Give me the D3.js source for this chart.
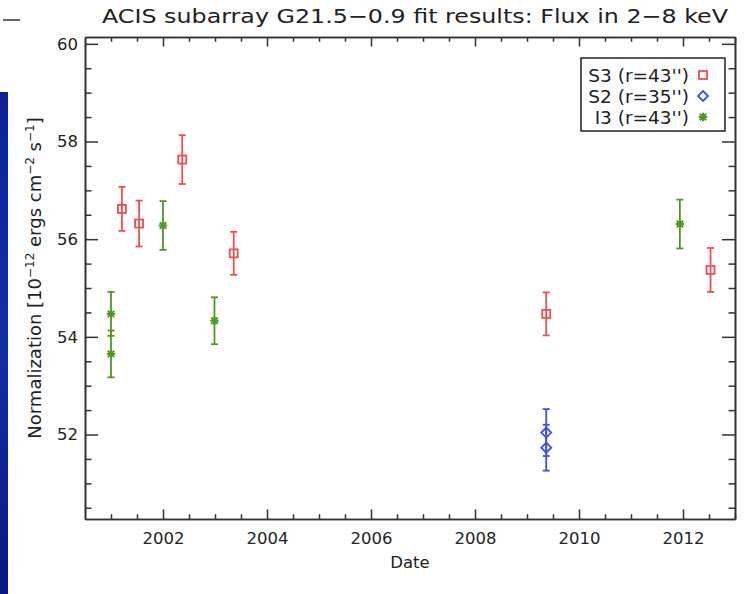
<!DOCTYPE html>
<html><head><meta charset="utf-8">
<script src="https://cdn.jsdelivr.net/npm/d3@7"></script>
<style>
html,body{margin:0;padding:0;background:#fff;}
svg text{font-family:"DejaVu Sans",sans-serif;fill:#222;}
</style></head>
<body>
<svg id="c" width="744" height="594"></svg>
<script>
// ---- data ----
const s3Dates = [2001.21, 2001.54, 2002.37, 2003.36, 2009.37, 2012.53];
const s3Vals  = [56.62, 56.32, 57.63, 55.71, 54.47, 55.37];
const s3Errs  = [0.45, 0.47, 0.50, 0.44, 0.44, 0.45];
const s2Dates = [2009.37, 2009.37];
const s2Vals  = [52.04, 51.73];
const s2Errs  = [0.48, 0.47];
const i3Dates = [2001.0, 2001.0, 2002.0, 2002.99, 2011.94];
const i3Vals  = [54.47, 53.65, 56.28, 54.33, 56.31];
const i3Errs  = [0.45, 0.48, 0.50, 0.48, 0.50];
const xTickLabels = [2002, 2004, 2006, 2008, 2010, 2012];
const yTickLabels = [52, 54, 56, 58, 60];
const legendLabels = ["S3 (r=43'')", "S2 (r=35'')", "I3 (r=43'')"];
const titleText = "ACIS subarray G21.5\u22120.9 fit results: Flux in 2\u22128 keV";

const svg = d3.select("#c");
const L = 85, R = 735, T = 37, B = 519;
const x = d3.scaleLinear().domain([2000.5, 2013]).range([L, R]);
const y = d3.scaleLinear().domain([50.27, 60.14]).range([B, T]);

// left decorative band
const grad = svg.append("defs").append("linearGradient").attr("id","bg").attr("x1",0).attr("y1",0).attr("x2",0).attr("y2",1);
grad.append("stop").attr("offset","0").attr("stop-color","#0b2296");
grad.append("stop").attr("offset","0.5").attr("stop-color","#1030a8");
grad.append("stop").attr("offset","1").attr("stop-color","#08187e");
svg.append("rect").attr("x",0).attr("y",92).attr("width",8).attr("height",502).attr("fill","url(#bg)");
svg.append("line").attr("x1",3).attr("x2",20).attr("y1",20).attr("y2",20).attr("stroke","#333").attr("stroke-width",1.5);

// title
svg.append("text").attr("x",(L+R)/2 + 5).attr("y",23).attr("text-anchor","middle")
  .attr("font-size",19.5).attr("textLength",626).attr("lengthAdjust","spacingAndGlyphs").text(titleText);

// axes
const xMinor = d3.range(2001, 2013.01, 0.5).filter(v => !xTickLabels.includes(v));
const yMinor = d3.range(50.5, 60.01, 0.5).filter(v => !yTickLabels.includes(v));
function styleAxis(g){ g.selectAll("path,line").attr("stroke","#333").attr("stroke-width",1.5); g.select(".domain").attr("stroke-width",1.6); }

const axB = svg.append("g").attr("transform",`translate(0,${B})`)
  .call(d3.axisBottom(x).tickValues(xTickLabels).tickFormat(d3.format("d")).tickSize(-9.6).tickSizeOuter(0).tickPadding(13));
axB.call(styleAxis); axB.selectAll("text").attr("font-size",16.5).attr("fill","#222");
svg.append("g").attr("transform",`translate(0,${B})`).call(d3.axisBottom(x).tickValues(xMinor).tickFormat("").tickSize(-4.8).tickSizeOuter(0)).call(styleAxis);
svg.append("g").attr("transform",`translate(0,${T})`).call(d3.axisTop(x).tickValues(xTickLabels).tickFormat("").tickSize(-9.6).tickSizeOuter(0)).call(styleAxis);
svg.append("g").attr("transform",`translate(0,${T})`).call(d3.axisTop(x).tickValues(xMinor).tickFormat("").tickSize(-4.8).tickSizeOuter(0)).call(styleAxis);

const axL = svg.append("g").attr("transform",`translate(${L},0)`)
  .call(d3.axisLeft(y).tickValues(yTickLabels).tickFormat(d3.format("d")).tickSize(-13).tickSizeOuter(0).tickPadding(7));
axL.call(styleAxis); axL.selectAll("text").attr("font-size",16.5).attr("fill","#222");
svg.append("g").attr("transform",`translate(${L},0)`).call(d3.axisLeft(y).tickValues(yMinor).tickFormat("").tickSize(-6.5).tickSizeOuter(0)).call(styleAxis);
svg.append("g").attr("transform",`translate(${R},0)`).call(d3.axisRight(y).tickValues(yTickLabels).tickFormat("").tickSize(-13).tickSizeOuter(0)).call(styleAxis);
svg.append("g").attr("transform",`translate(${R},0)`).call(d3.axisRight(y).tickValues(yMinor).tickFormat("").tickSize(-6.5).tickSizeOuter(0)).call(styleAxis);

// axis titles
svg.append("text").attr("x",(L+R)/2).attr("y",568).attr("text-anchor","middle").attr("font-size",16.5).text("Date");
const yl = svg.append("text").attr("transform",`translate(41,${(T+B)/2}) rotate(-90)`).attr("text-anchor","middle").attr("font-size",18);
yl.append("tspan").text("Normalization [10");
yl.append("tspan").attr("dy",-7).attr("font-size",12).text("\u221212");
yl.append("tspan").attr("dy",7).text(" ergs cm");
yl.append("tspan").attr("dy",-7).attr("font-size",12).text("\u22122");
yl.append("tspan").attr("dy",7).text(" s");
yl.append("tspan").attr("dy",-7).attr("font-size",12).text("\u22121");
yl.append("tspan").attr("dy",7).text("]");

// markers
const RED = "#ee5050", BLUE = "#3b4ff0", GREEN = "#4f9a1e";
function marker(g, type, cx, cy, col){
  if(type==="sq") g.append("rect").attr("x",cx-4).attr("y",cy-4).attr("width",8).attr("height",8).attr("fill","none").attr("stroke",col).attr("stroke-width",1.8);
  else if(type==="di") g.append("path").attr("d",`M${cx},${cy-5}L${cx+5},${cy}L${cx},${cy+5}L${cx-5},${cy}Z`).attr("fill","none").attr("stroke",col).attr("stroke-width",1.8);
  else { const r=4.3; [[r,0],[0,r],[r*0.75,r*0.75],[r*0.75,-r*0.75]].forEach(([dx,dy])=>g.append("line").attr("x1",cx-dx).attr("y1",cy-dy).attr("x2",cx+dx).attr("y2",cy+dy).attr("stroke",col).attr("stroke-width",2)); }
}
function series(dates, vals, errs, type, col){
  const g = svg.append("g");
  dates.forEach((d,i)=>{
    const cx = x(d), cy = y(vals[i]), y1 = y(vals[i]+errs[i]), y2 = y(vals[i]-errs[i]);
    g.append("line").attr("x1",cx).attr("x2",cx).attr("y1",y1).attr("y2",y2).attr("stroke",col).attr("stroke-width",1.8);
    [y1,y2].forEach(yy=>g.append("line").attr("x1",cx-3.5).attr("x2",cx+3.5).attr("y1",yy).attr("y2",yy).attr("stroke",col).attr("stroke-width",1.8));
    marker(g, type, cx, cy, col);
  });
}
series(s3Dates, s3Vals, s3Errs, "sq", RED);
series(s2Dates, s2Vals, s2Errs, "di", BLUE);
series(i3Dates, i3Vals, i3Errs, "st", GREEN);

// legend
svg.append("rect").attr("x",581).attr("y",58).attr("width",144).attr("height",73).attr("fill","#fff").attr("stroke","#222").attr("stroke-width",1.5);
const types = ["sq","di","st"], cols = [RED, BLUE, GREEN];
legendLabels.forEach((t,i)=>{
  const yy = 75 + i*21;
  svg.append("text").attr("x",689).attr("y",yy+6.5).attr("text-anchor","end").attr("font-size",18.5).text(t);
  marker(svg, types[i], 703, yy, cols[i]);
});
</script>
</body></html>
